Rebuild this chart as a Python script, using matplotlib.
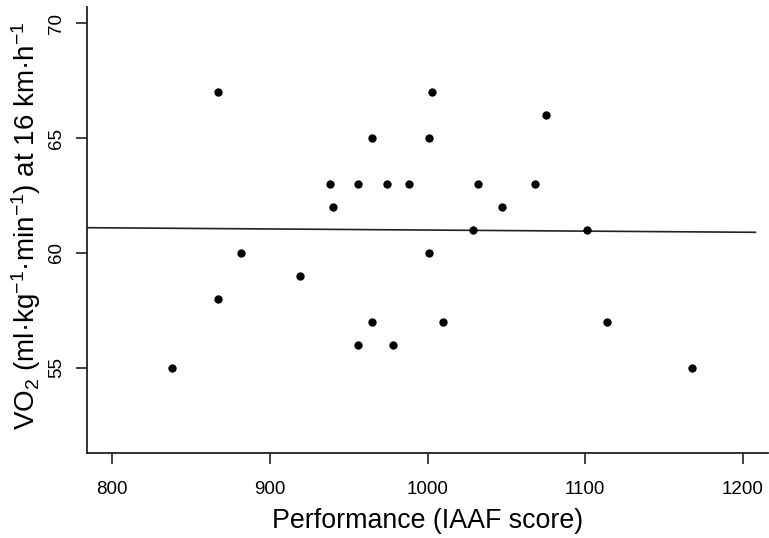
import matplotlib
matplotlib.use("Agg")
import matplotlib.pyplot as plt
import numpy as np

# performance (IAAF score) vs VO2 at 16 km/h
performance = [838, 867, 867, 882, 919, 938, 940, 956, 956, 965, 965, 974, 978,
               988, 1001, 1001, 1003, 1010, 1029, 1032, 1047, 1068, 1075, 1101,
               1114, 1168]
vo2 = [55, 67, 58, 60, 59, 63, 62, 63, 56, 65, 57, 63, 56,
       63, 65, 60, 67, 57, 61, 63, 62, 63, 66, 61,
       57, 55]

# fitted line
fit_x = [784, 1208]
fit_y = [61.1, 60.9]

x_ticks = [800, 900, 1000, 1100, 1200]
y_ticks = [55, 60, 65, 70]

plt.rcParams['font.family'] = ['Liberation Sans', 'DejaVu Sans']
plt.rcParams['mathtext.default'] = 'regular'

fig = plt.figure(figsize=(7.69, 5.38), dpi=100)
ax = fig.add_axes([87 / 769, (538 - 453.3) / 538, (768 - 87) / 769, (453.3 - 6.7) / 538])

ax.scatter(performance, vo2, s=36, color='black', zorder=3, linewidths=0)
ax.plot(fit_x, fit_y, color='#222222', lw=1.2)

ax.set_xlim(784, 1216)
ax.set_ylim(51.28, 70.72)
ax.set_xticks(x_ticks)
ax.set_yticks(y_ticks)
ax.spines['top'].set_visible(False)
ax.spines['right'].set_visible(False)
for s in ['left', 'bottom']:
    ax.spines[s].set_linewidth(1.3)
    ax.spines[s].set_color('#222222')

ax.tick_params(axis='both', length=8, width=1.2, color='#222222', labelsize=13.5)
ax.tick_params(axis='x', pad=12)
ax.tick_params(axis='y', pad=8)
plt.setp(ax.get_yticklabels(), rotation=90, va='center')

ax.set_xlabel('Performance (IAAF score)', fontsize=19.3, labelpad=7)
ax.set_ylabel('VO$_2$ (ml·kg$^{-1}$·min$^{-1}$) at 16 km·h$^{-1}$', fontsize=20)
ax.yaxis.set_label_coords(-0.064, 0.51)

fig.savefig('out.png', dpi=100)
